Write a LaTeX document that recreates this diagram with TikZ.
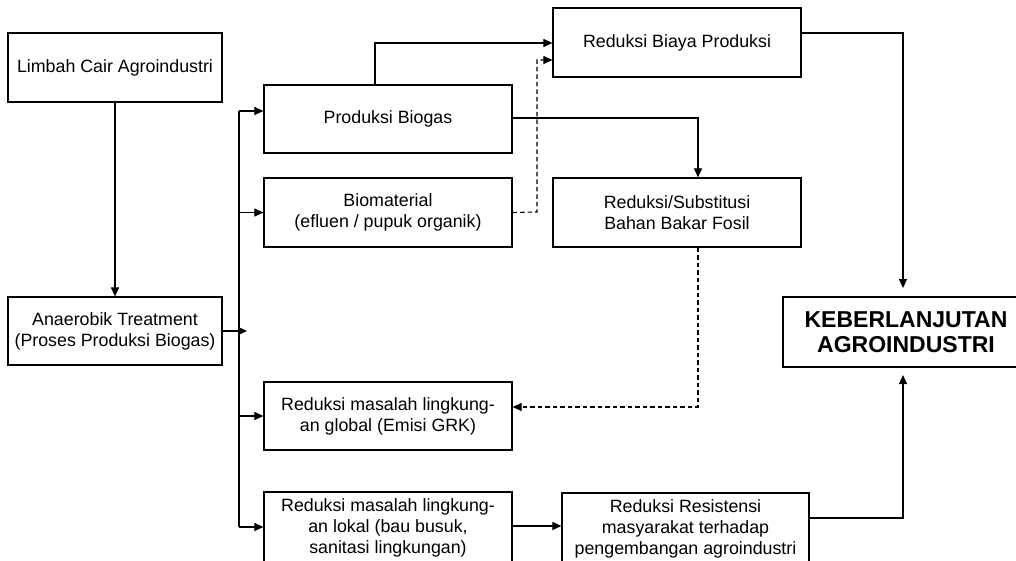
\documentclass[tikz,border=0pt]{standalone}
\usepackage{fontspec}
\setmainfont{Liberation Sans}
\usetikzlibrary{arrows.meta}
\begin{document}
\begin{tikzpicture}[x=1pt,y=-1pt,
  box/.style={draw, line width=1.2pt, align=center, inner sep=0pt,
    font=\fontsize{17.8}{21}\selectfont},
  bigbox/.style={box, font=\fontsize{23}{25}\selectfont\bfseries},
  arr/.style={line width=1.1pt, -{Triangle[length=9pt,width=8pt]}},
  dsh/.style={dash pattern=on 4.5pt off 3pt}]
\useasboundingbox (0,0) rectangle (1016,560);
% nodes
\node[box, minimum width=214pt, minimum height=69pt] (limbah) at (115,67.5) {Limbah Cair Agroindustri};
\node[box, minimum width=214pt, minimum height=68pt] (ana) at (115,331) {Anaerobik Treatment\\(Proses Produksi Biogas)};
\node[box, minimum width=248pt, minimum height=68pt] (prod) at (388,119) {Produksi Biogas};
\node[box, minimum width=248pt, minimum height=69pt] (bio) at (388,212.5) {Biomaterial\\(efluen / pupuk organik)};
\node[box, minimum width=248pt, minimum height=69pt] (biaya) at (677,42.5) {Reduksi Biaya Produksi};
\node[box, minimum width=248pt, minimum height=69pt] (subst) at (677,212.5) {Reduksi/Substitusi\\Bahan Bakar Fosil};
\node[box, minimum width=248pt, minimum height=68pt] (global) at (388,416) {Reduksi masalah lingkung-\\an global (Emisi GRK)};
\node[box, minimum width=248pt, minimum height=72pt] (lokal) at (388,528) {Reduksi masalah lingkung-\\an lokal (bau busuk,\\sanitasi lingkungan)};
\node[box, minimum width=247pt, minimum height=71pt] (resist) at (685.5,528.5) {Reduksi Resistensi\\masyarakat terhadap\\pengembangan agroindustri};
\node[bigbox, minimum width=246pt, minimum height=70pt] (keb) at (906,332) {KEBERLANJUTAN\\AGROINDUSTRI};
% helper coordinates
\coordinate (jn) at (247,331);
\coordinate (busTop) at (239,111);
\coordinate (busBot) at (239,527);
\coordinate (p1) at (375,43);
\coordinate (p2) at (698,118);
\coordinate (d1) at (537,212);
\coordinate (d2) at (537,60);
\coordinate (d3) at (698,407);
\coordinate (k1) at (903,33);
\coordinate (k2) at (903,288);
\coordinate (k3) at (903,518);
\coordinate (k4) at (903,375);
\coordinate (l1) at (512,526);
% connectors
\draw[arr] (limbah.south) -- (ana.north);
\draw[arr] (ana.east) -- (jn);
\draw[line width=1.1pt] (busTop) -- (busBot);
\draw[arr] (busTop) -- (prod.west |- busTop);
\draw[arr] (busTop |- bio.west) -- (bio.west);
\draw[arr] (busTop |- global.west) -- (global.west);
\draw[arr] (busBot) -- (lokal.west |- busBot);
\draw[arr] (p1 |- prod.north) -- (p1) -- (biaya.west |- p1);
\draw[arr] (prod.east |- p2) -- (p2) -- (p2 |- subst.north);
\draw[arr, dsh] (bio.east) -- (d1) -- (d2) -- (biaya.west |- d2);
\draw[arr, dsh] (d3 |- subst.south) -- (d3) -- (global.east |- d3);
\draw[arr] (biaya.east |- k1) -- (k1) -- (k2);
\draw[arr] (l1) -- (resist.west |- l1);
\draw[arr] (resist.east |- k3) -- (k3) -- (k4);
\end{tikzpicture}
\end{document}
